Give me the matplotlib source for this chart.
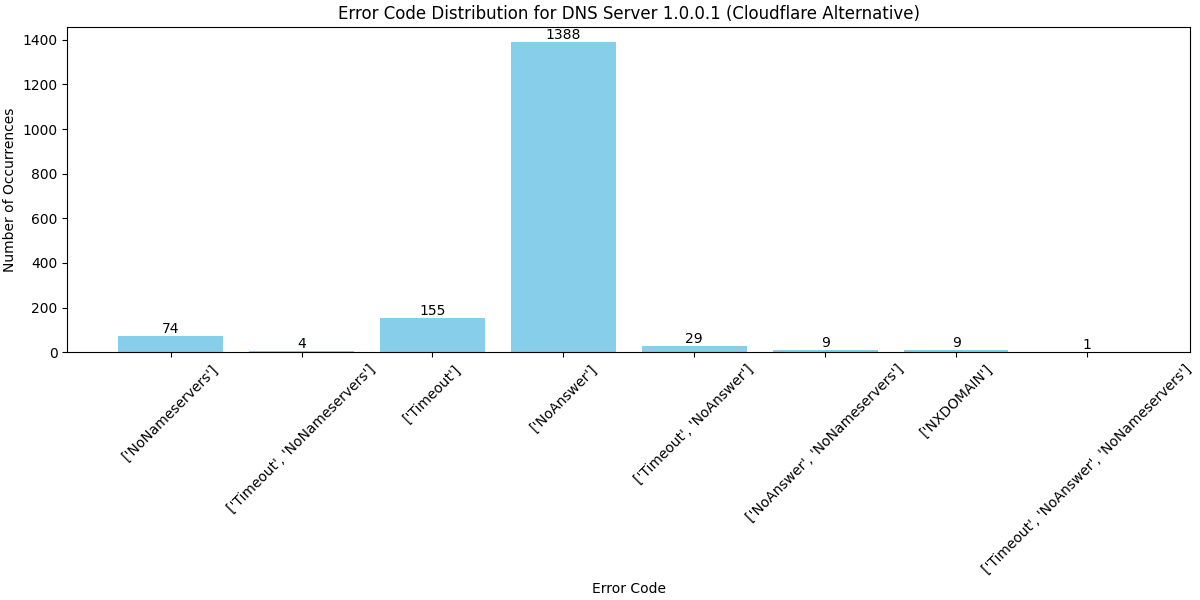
import matplotlib
matplotlib.use("Agg")
import matplotlib.pyplot as plt

# error codes and counts
error_codes = [
    "['NoNameservers']",
    "['Timeout', 'NoNameservers']",
    "['Timeout']",
    "['NoAnswer']",
    "['Timeout', 'NoAnswer']",
    "['NoAnswer', 'NoNameservers']",
    "['NXDOMAIN']",
    "['Timeout', 'NoAnswer', 'NoNameservers']",
]
counts = [74, 4, 155, 1388, 29, 9, 9, 1]

fig = plt.figure(figsize=(12, 6), dpi=100)
bars = plt.bar(error_codes, counts, color="skyblue")
for b, c in zip(bars, counts):
    plt.text(b.get_x() + b.get_width() / 2, b.get_height(), str(c),
             ha="center", va="bottom", fontsize=10)
plt.title("Error Code Distribution for DNS Server 1.0.0.1 (Cloudflare Alternative)")
plt.xlabel("Error Code")
plt.ylabel("Number of Occurrences")
plt.xticks(rotation=45)
plt.subplots_adjust(left=0.056, right=0.992, top=0.955, bottom=0.413)
plt.savefig("out.png")
